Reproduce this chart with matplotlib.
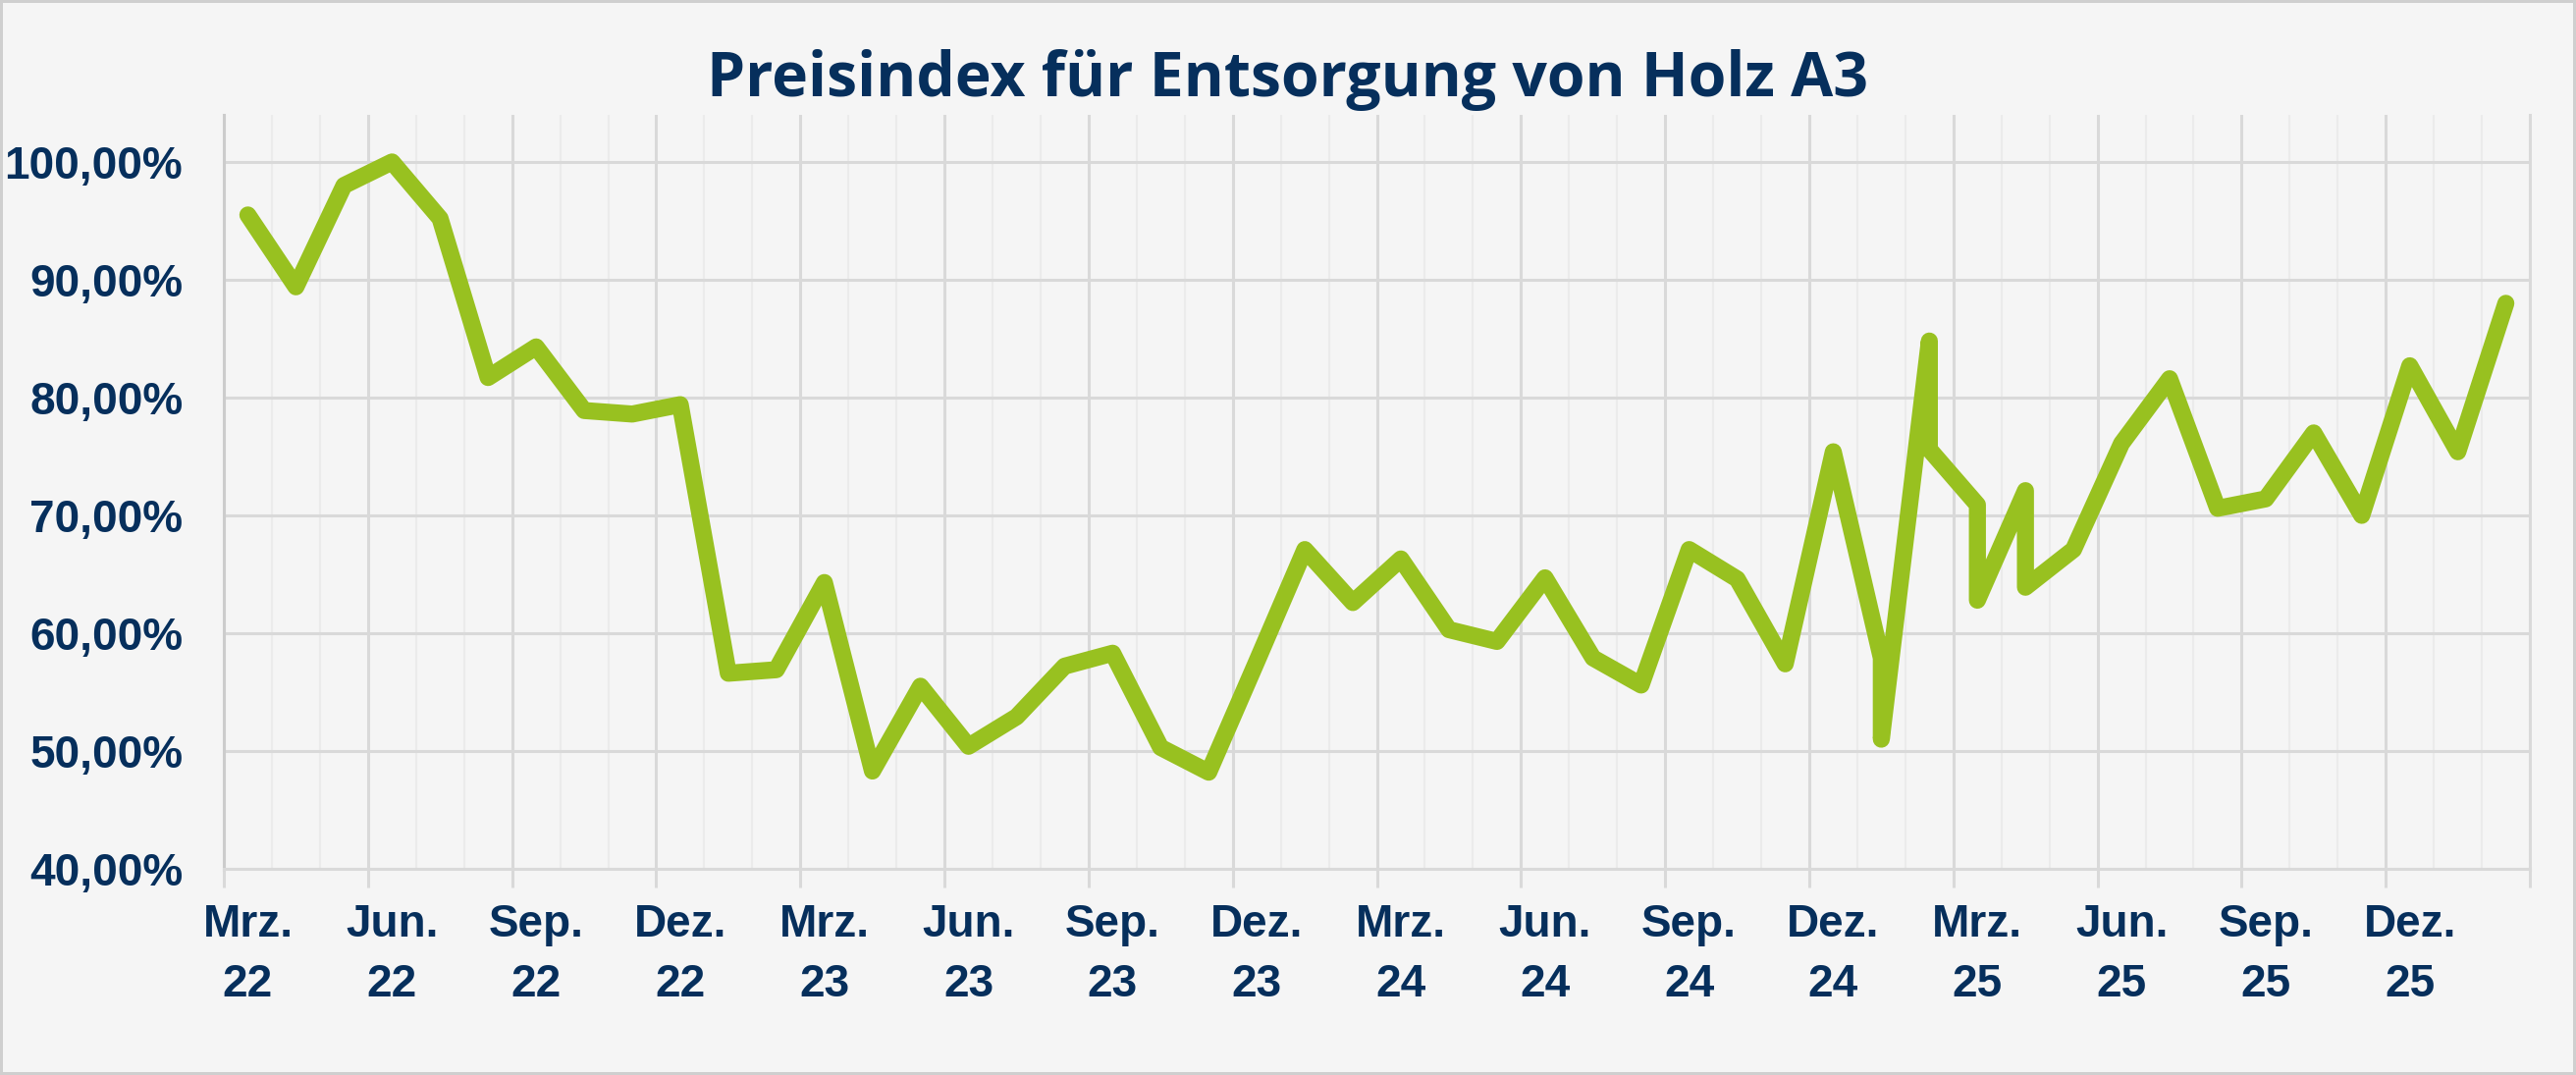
import matplotlib
matplotlib.use("Agg")
import matplotlib.pyplot as plt
import matplotlib.transforms as mtransforms
from matplotlib import font_manager
from matplotlib.ticker import MultipleLocator

# month offset from Mrz. 22 (0 = Mrz. 22); some months carry two readings
month_pos = [0, 1, 2, 3, 4, 5, 6, 7, 8, 9,
             10, 11, 12, 13, 14, 15, 16, 17, 18, 19, 20, 21,
             22, 23, 24, 25, 26, 27, 28, 29, 30, 31, 32, 33,
             34, 34, 35, 35, 36, 36, 37, 37, 38, 39, 40, 41, 42, 43, 44, 45,
             46, 47]
index_values = [95.5, 89.4, 98.0, 100.0, 95.2, 81.7, 84.3, 78.9, 78.6, 79.4,
                56.6, 56.9, 64.3, 48.3, 55.5, 50.4, 52.9, 57.2, 58.3, 50.3, 48.2, 57.6,
                67.1, 62.6, 66.3, 60.3, 59.3, 64.7, 57.9, 55.6, 67.1, 64.6, 57.4, 75.4,
                57.9, 51.0, 84.8, 75.6, 70.9, 62.8, 72.1, 63.9, 67.1, 76.1, 81.6, 70.6, 71.4, 77.0, 70.0, 82.7,
                75.4, 88.0]

x_label_months = [0, 3, 6, 9, 12, 15, 18, 21, 24, 27, 30, 33, 36, 39, 42, 45]
x_labels = ["Mrz.\n22", "Jun.\n22", "Sep.\n22", "Dez.\n22",
            "Mrz.\n23", "Jun.\n23", "Sep.\n23", "Dez.\n23",
            "Mrz.\n24", "Jun.\n24", "Sep.\n24", "Dez.\n24",
            "Mrz.\n25", "Jun.\n25", "Sep.\n25", "Dez.\n25"]
y_ticks = [40, 50, 60, 70, 80, 90, 100]
y_labels = ["40,00%", "50,00%", "60,00%", "70,00%", "80,00%", "90,00%", "100,00%"]

navy = "#062f5c"
green = "#98c120"
grid_col = "#d9d9d9"
bg = "#f5f5f5"

names = {f.name for f in font_manager.fontManager.ttflist}
narrow = "Liberation Sans Narrow" in names
label_font = "Liberation Sans Narrow" if narrow else "Liberation Sans"
label_size = 37 if narrow else 33

fig = plt.figure(figsize=(26.24, 10.95), dpi=100, facecolor=bg)
fig.patch.set_edgecolor("#cfcfcf")
fig.patch.set_linewidth(4)
ax = fig.add_axes([0.0869, 0.1918, 0.8952, 0.7014])
ax.set_facecolor(bg)

x = [m + 0.5 for m in month_pos]
ax.plot(x, index_values, color=green, lw=12.5,
        solid_capstyle="round", solid_joinstyle="round", zorder=3)

ax.set_xlim(0, 48)
ax.set_ylim(40, 104)
ax.xaxis.set_major_locator(MultipleLocator(3))
ax.xaxis.set_minor_locator(MultipleLocator(1))
ax.grid(which="major", color=grid_col, lw=2.2)
ax.grid(which="minor", axis="x", color="#ebebeb", lw=1.5)
ax.set_axisbelow(True)
ax.tick_params(axis="x", which="major", length=14, width=2.2, color=grid_col, labelbottom=False)
ax.tick_params(axis="x", which="minor", length=0)

ax.set_yticks(y_ticks, y_labels)
ax.tick_params(axis="y", length=0, pad=30, labelsize=label_size, labelcolor=navy)
for lbl in ax.get_yticklabels():
    lbl.set_fontfamily(label_font)
    lbl.set_fontweight("bold")

ax.spines["top"].set_visible(False)
for side in ["left", "right", "bottom"]:
    ax.spines[side].set_color("#cccccc" if side == "left" else grid_col)
    ax.spines[side].set_linewidth(2.2)

trans = mtransforms.blended_transform_factory(ax.transData, ax.transAxes)
for m, lab in zip(x_label_months, x_labels):
    ax.text(m + 0.5, -0.046, lab, transform=trans, ha="center", va="top",
            fontsize=label_size, family=label_font, weight="bold", color=navy,
            linespacing=1.5)

fig.text(0.5, 1 - 98 / 1095, "Preisindex für Entsorgung von Holz A3", ha="center",
         va="baseline", fontsize=45, fontweight="bold", family="Open Sans", color=navy)

fig.savefig("out.png", dpi=100, facecolor=fig.get_facecolor(), edgecolor=fig.patch.get_edgecolor())
